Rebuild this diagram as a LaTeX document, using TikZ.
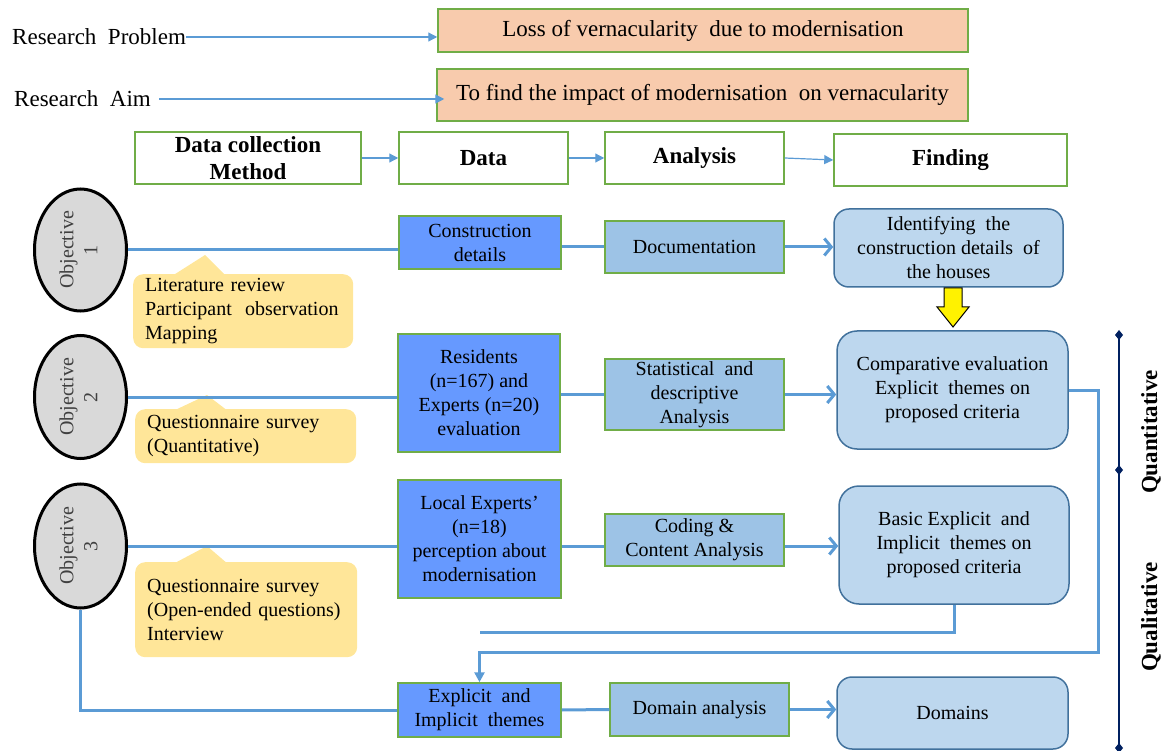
\documentclass[tikz,border=0pt]{standalone}
\usepackage{fontspec}
\setmainfont{Liberation Serif}
\usetikzlibrary{shapes.geometric,arrows.meta,calc}
\definecolor{peach}{HTML}{F8CBAD}
\definecolor{grn}{HTML}{70AD47}
\definecolor{dblue}{HTML}{6699FF}
\definecolor{ablue}{HTML}{9DC3E6}
\definecolor{fblue}{HTML}{BDD7EE}
\definecolor{fborder}{HTML}{41719C}
\definecolor{ogray}{HTML}{D9D9D9}
\definecolor{dgray}{HTML}{404040}
\definecolor{cyel}{HTML}{FFE699}
\definecolor{cblue}{HTML}{5B9BD5}
\definecolor{navy}{HTML}{002060}
\newcommand\myfs{\fontsize{20}{24}\selectfont}
\newcommand\mybigfs{\fontsize{23}{28}\selectfont}
\tikzset{
 base/.style={font=\myfs, inner sep=2pt, align=center},
 probbox/.style={base, draw=grn, fill=peach, line width=1.5pt, font=\mybigfs},
 headbox/.style={base, draw=grn, fill=white, line width=1.5pt, font=\mybigfs\bfseries},
 databox/.style={base, draw=grn, fill=dblue, line width=1.5pt},
 anbox/.style={base, draw=grn, fill=ablue, line width=1.5pt},
 findbox/.style={base, draw=fborder, fill=fblue, line width=1.5pt, rounded corners=15pt},
 objell/.style={base, ellipse, draw=black, fill=ogray, line width=3pt, text=dgray},
 callout/.style={base, fill=cyel, rounded corners=10pt, align=left, inner xsep=12pt},
 conn/.style={draw=cblue, line width=3pt},
 thinc/.style={draw=cblue, line width=1.2pt},
 carrow/.style={-{Straight Barb[length=7pt,width=17pt]}},
 tarrow/.style={-{Triangle[length=9pt,width=9pt]}},
 sz/.style 2 args={minimum width=#1pt, minimum height=#2pt},
}
\begin{document}
\begin{tikzpicture}[x=1pt,y=-1pt]
\useasboundingbox (0,0) rectangle (1173,751);

% top
\node[base, font=\mybigfs, anchor=west, inner sep=0pt] (rp) at (12,37) {Research\ \ Problem};
\node[base, font=\mybigfs, anchor=west, inner sep=0pt] (ra) at (14,99) {Research\ \ Aim};
\node[probbox, sz={530}{43}] (p1) at (703,30.5) {Loss of vernacularity\ \ due to modernisation};
\node[probbox, sz={531}{52}] (p2) at (702.5,95) {To find the impact of modernisation\ \ on vernacularity};
\draw[thinc, tarrow] (rp.east) -- (rp.east -| p1.west);
\draw[thinc, tarrow] ([xshift=8pt]ra.east) -- ([xshift=8pt]ra.east -| p2.west);

% headers
\node[headbox, sz={226}{52}, font=\fontsize{23}{27}\selectfont\bfseries] (h1) at (248,158) {Data collection\\Method};
\node[headbox, sz={169}{52}] (h2) at (483.5,158) {Data};
\node[headbox, sz={179}{52}] (h3) at (694.5,158) {Analysis};
\node[headbox, sz={233}{52}] (h4) at (950.5,160) {Finding};
\draw[thinc, tarrow] (h1.east) -- (h2.west);
\draw[thinc, tarrow] (h2.east) -- (h3.west);
\draw[thinc, tarrow] (h3.east) -- (h4.west);

% objectives
\node[objell, sz={92}{122}] (o1) at (80.5,250) {\rotatebox{90}{\begin{tabular}{@{}c@{}}Objective\\1\end{tabular}}};
\node[objell, sz={92}{123}] (o2) at (80.5,397) {\rotatebox{90}{\begin{tabular}{@{}c@{}}Objective\\2\end{tabular}}};
\node[objell, sz={92}{124}] (o3) at (80.5,546) {\rotatebox{90}{\begin{tabular}{@{}c@{}}Objective\\3\end{tabular}}};

% data
\node[databox, sz={162}{53}] (d1) at (480,242.5) {Construction\\details};
\node[databox, sz={162}{118}] (d2) at (479,393) {Residents\\(n=167) and\\Experts (n=20)\\evaluation};
\node[databox, sz={163}{118}] (d3) at (479.5,539) {Local Experts'\\(n=18)\\perception about\\modernisation};
\node[databox, sz={163}{54}] (d4) at (479.5,710) {Explicit\ \ and\\Implicit\ \ themes};

% analysis
\node[anbox, sz={179}{52}] (a1) at (694.5,247) {Documentation};
\node[anbox, sz={179}{71}] (a2) at (694.5,394.5) {Statistical\ \ and\\descriptive\\Analysis};
\node[anbox, sz={179}{52}] (a3) at (694.5,540) {Coding \&\\Content Analysis};
\node[anbox, sz={179}{53}] (a4) at (699.5,709.5) {Domain analysis};

% findings
\node[findbox, sz={229}{78}] (f1) at (948.5,248) {Identifying\ \ the\\construction details\ \ of\\the houses};
\node[findbox, sz={231}{118}, rounded corners=20pt] (f2) at (952.5,390) {Comparative evaluation\\Explicit\ \ themes on\\proposed criteria};
\node[findbox, sz={230}{118}, rounded corners=20pt] (f3) at (954,545) {Basic Explicit\ \ and\\Implicit\ \ themes on\\proposed criteria};
\node[findbox, sz={231}{72}] (f4) at (952.5,713) {Domains};

% callouts
\fill[cyel] (172,276) -- (205,255) -- (226,276) -- cycle;
\fill[cyel] (173,411) -- (207,395) -- (228,411) -- cycle;
\fill[cyel] (173,564) -- (207,546) -- (228,564) -- cycle;
\node[callout, text width=196pt, minimum height=74pt, anchor=north west] (c1) at (133,274) {Literature review\\Participant\ \ observation\\Mapping};
\node[callout, text width=197pt, minimum height=54pt, anchor=north west] (c2) at (135,409) {Questionnaire survey\\(Quantitative)};
\node[callout, text width=198pt, minimum height=95pt, anchor=north west] (c3) at (135,562) {Questionnaire survey\\(Open-ended questions)\\Interview};

% row connectors
\draw[conn] (o1.east) -- (o1.east -| d1.west);
\draw[conn] (d1.east |- a1.west) -- (a1.west);
\draw[conn, carrow] (a1.east) -- (a1.east -| f1.west);

\draw[conn] (o2.east) -- (o2.east -| d2.west);
\draw[conn] (d2.east |- a2.west) -- (a2.west);
\draw[conn, carrow] (a2.east) -- (a2.east -| f2.west);

\draw[conn] (o3.east) -- (o3.east -| d3.west);
\draw[conn] (d3.east |- o3.east) -- (a3.west |- o3.east);
\draw[conn, carrow] (a3.east |- o3.east) -- (f3.west |- o3.east);

\draw[conn] (o3.south) |- (d4.west);
\draw[conn] (d4.east) -- (a4.west);
\draw[conn, carrow] (a4.east) -- (a4.east -| f4.west);

% feedback
\coordinate (j2) at (1098,652);
\coordinate (j3) at (479.5,632);
\draw[conn, -{Triangle[length=10pt,width=10pt]}] (f2.east) -| (j2) -| (d4.north);
\draw[conn] (f3.south) |- (j3);

% yellow arrow
\draw[fill=yellow, line width=1pt, line join=miter] (944,288) -- (962,288) -- (962,307) -- (969,307) -- (953,327) -- (937,307) -- (944,307) -- cycle;

% right scale
\draw[navy, line width=2pt] (1119,335) -- (1119,748);
\foreach \yy in {335,470,748} \fill[navy] (1119,\yy) +(0,-5) -- +(4,0) -- +(0,5) -- +(-4,0) -- cycle;
\node[base, font=\mybigfs\bfseries, rotate=90] (qt) at (1151,432) {Quantitative};
\node[base, font=\mybigfs\bfseries, rotate=90] (ql) at (1151,617) {Qualitative};
\end{tikzpicture}
\end{document}
